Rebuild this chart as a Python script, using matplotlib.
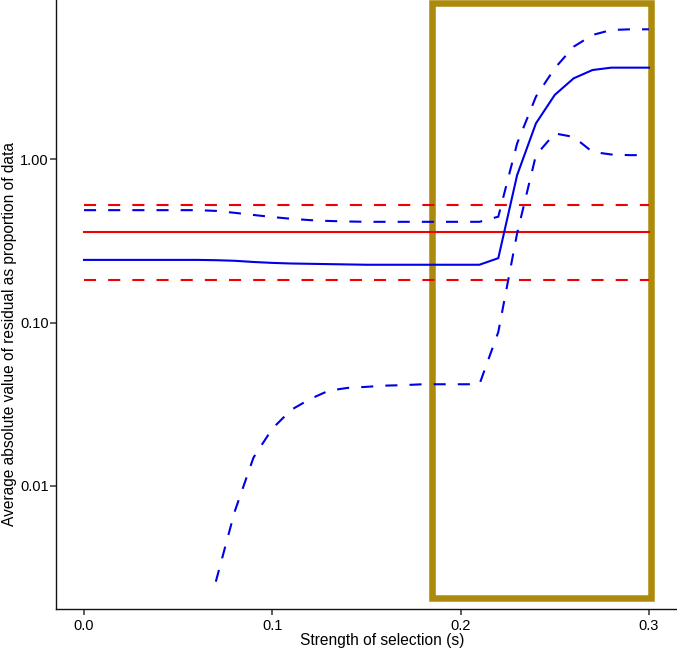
import numpy as np
import matplotlib
matplotlib.use('Agg')
import matplotlib.pyplot as plt
from matplotlib.patches import Rectangle

plt.rcParams['font.family'] = ['Liberation Sans', 'DejaVu Sans']

# strength of selection, step 0.01
s = np.round(np.arange(0, 0.301, 0.01), 2)

blue_mid = [0.242, 0.242, 0.242, 0.242, 0.242, 0.242, 0.242, 0.241, 0.239, 0.235,
            0.232, 0.230, 0.229, 0.228, 0.227, 0.226, 0.226, 0.226, 0.226, 0.226,
            0.226, 0.226, 0.248, 0.80, 1.66, 2.48, 3.13, 3.52, 3.64, 3.64, 3.64]
blue_hi = [0.488, 0.488, 0.488, 0.488, 0.488, 0.488, 0.488, 0.483, 0.470, 0.456,
           0.443, 0.432, 0.424, 0.419, 0.416, 0.414, 0.414, 0.414, 0.414, 0.414,
           0.414, 0.414, 0.445, 1.25, 2.42, 3.61, 4.89, 5.77, 6.19, 6.25, 6.25]
blue_lo = [np.nan, np.nan, np.nan, np.nan, np.nan, np.nan, np.nan, 0.00259, 0.00695, 0.0149,
           0.0224, 0.0292, 0.0340, 0.0383, 0.0398, 0.0404, 0.0411, 0.0414, 0.0419, 0.0419,
           0.0419, 0.0419, 0.0875, 0.352, 1.06, 1.44, 1.37, 1.11, 1.07, 1.06, 1.06]

red_mid = 0.359
red_hi = 0.528
red_lo = 0.182

# highlighted region
box_x = (0.185, 0.301)
box_y = (0.00207, 9.12)

fig = plt.figure(figsize=(6.77, 6.59), dpi=100)
ax = fig.add_axes([56 / 677, 49.7 / 659, 1 - 56 / 677, 1 - 49.7 / 659])

ax.add_patch(Rectangle((box_x[0], box_y[0]), box_x[1] - box_x[0], box_y[1] - box_y[0],
                       fill=False, edgecolor='#AD8A0C', lw=4.7, zorder=1, clip_on=False))

dash = (0, (5.8, 5.8))
ax.plot([0, 0.3], [red_mid, red_mid], color='#F00000', lw=1.5, zorder=2)
ax.plot([0, 0.3], [red_hi, red_hi], color='#F00000', lw=1.5, ls=dash, zorder=2)
ax.plot([0, 0.3], [red_lo, red_lo], color='#F00000', lw=1.5, ls=dash, zorder=2)
ax.plot(s, blue_mid, color='#0000E6', lw=1.5, zorder=3)
ax.plot(s, blue_hi, color='#0000E6', lw=1.5, ls=dash, zorder=3)
ax.plot(s, blue_lo, color='#0000E6', lw=1.5, ls=dash, zorder=3)

ax.set_yscale('log')
ax.set_xlim(-0.01487, 0.3149)
ax.set_ylim(0.001754, 9.45)
ax.set_xticks([0.0, 0.1, 0.2, 0.3])
ax.set_xticklabels(['0.0', '0.1', '0.2', '0.3'])
ax.set_yticks([0.01, 0.1, 1.0])
ax.set_yticklabels(['0.01', '0.10', '1.00'])
ax.minorticks_off()

for side in ['top', 'right']:
    ax.spines[side].set_visible(False)
for side in ['left', 'bottom']:
    ax.spines[side].set_linewidth(1.0)
    ax.spines[side].set_color('#111111')

ax.tick_params(axis='x', length=4.3, width=1.1, color='#333333', pad=3, labelsize=10.5)
ax.tick_params(axis='y', length=4.3, width=1.1, color='#333333', pad=1, labelsize=10.5)

fig.text(382.5 / 677, 1 - 641 / 659, 'Strength of selection (s)', ha='center', va='center',
         fontsize=11.2)
fig.text(10 / 677, 1 - 334 / 659, 'Average absolute value of residual as proportion of data',
         ha='center', va='center', rotation=90, fontsize=11.2)

fig.savefig('out.png', dpi=100)
